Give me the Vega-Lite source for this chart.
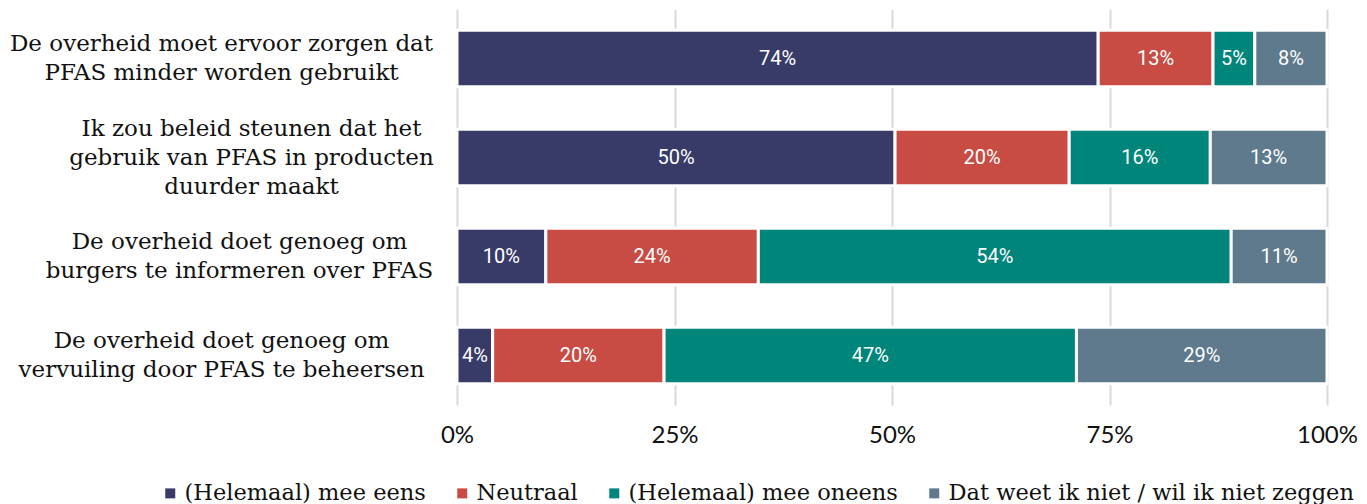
{
  "$schema": "https://vega.github.io/schema/vega-lite/v6.json",
  "width": 870,
  "height": 396,
  "autosize": {"type": "none"},
  "padding": {"left": 457, "top": 9, "right": 40, "bottom": 99},
  "background": "white",
  "config": {"view": {"stroke": null}, "font": "DejaVu Serif"},
  "data": {
    "values": [
      {"q": "De overheid moet ervoor zorgen dat|PFAS minder worden gebruikt", "cat": "(Helemaal) mee eens", "rank": 1, "v": 0.737},
      {"q": "De overheid moet ervoor zorgen dat|PFAS minder worden gebruikt", "cat": "Neutraal", "rank": 2, "v": 0.132},
      {"q": "De overheid moet ervoor zorgen dat|PFAS minder worden gebruikt", "cat": "(Helemaal) mee oneens", "rank": 3, "v": 0.048},
      {"q": "De overheid moet ervoor zorgen dat|PFAS minder worden gebruikt", "cat": "Dat weet ik niet / wil ik niet zeggen", "rank": 4, "v": 0.083},
      {"q": "Ik zou beleid steunen dat het|gebruik van PFAS in producten|duurder maakt", "cat": "(Helemaal) mee eens", "rank": 1, "v": 0.503},
      {"q": "Ik zou beleid steunen dat het|gebruik van PFAS in producten|duurder maakt", "cat": "Neutraal", "rank": 2, "v": 0.2},
      {"q": "Ik zou beleid steunen dat het|gebruik van PFAS in producten|duurder maakt", "cat": "(Helemaal) mee oneens", "rank": 3, "v": 0.162},
      {"q": "Ik zou beleid steunen dat het|gebruik van PFAS in producten|duurder maakt", "cat": "Dat weet ik niet / wil ik niet zeggen", "rank": 4, "v": 0.134},
      {"q": "De overheid doet genoeg om|burgers te informeren over PFAS", "cat": "(Helemaal) mee eens", "rank": 1, "v": 0.102},
      {"q": "De overheid doet genoeg om|burgers te informeren over PFAS", "cat": "Neutraal", "rank": 2, "v": 0.244},
      {"q": "De overheid doet genoeg om|burgers te informeren over PFAS", "cat": "(Helemaal) mee oneens", "rank": 3, "v": 0.543},
      {"q": "De overheid doet genoeg om|burgers te informeren over PFAS", "cat": "Dat weet ik niet / wil ik niet zeggen", "rank": 4, "v": 0.11},
      {"q": "De overheid doet genoeg om|vervuiling door PFAS te beheersen", "cat": "(Helemaal) mee eens", "rank": 1, "v": 0.041},
      {"q": "De overheid doet genoeg om|vervuiling door PFAS te beheersen", "cat": "Neutraal", "rank": 2, "v": 0.197},
      {"q": "De overheid doet genoeg om|vervuiling door PFAS te beheersen", "cat": "(Helemaal) mee oneens", "rank": 3, "v": 0.474},
      {"q": "De overheid doet genoeg om|vervuiling door PFAS te beheersen", "cat": "Dat weet ik niet / wil ik niet zeggen", "rank": 4, "v": 0.288}
    ]
  },
  "encoding": {
    "y": {
      "field": "q",
      "type": "nominal",
      "sort": null,
      "title": null,
      "scale": {"paddingInner": 0.43, "paddingOuter": 0.215},
      "axis": {
        "domain": false,
        "ticks": false,
        "labelExpr": "split(datum.label, '|')",
        "labelFont": "DejaVu Serif",
        "labelFontSize": 23,
        "labelLineHeight": 29,
        "labelColor": "#111111",
        "labelAlign": "center",
        "labelBaseline": "middle",
        "labelLimit": 0,
        "labelPadding": {
          "condition": [
            {"test": "indexof(datum.value, 'Ik zou') == 0", "value": 206},
            {"test": "indexof(datum.value, 'burgers') >= 0", "value": 218}
          ],
          "value": 236
        },
        "labelOffset": {
          "condition": {"test": "indexof(datum.value, 'Ik zou') == 0", "value": -29},
          "value": -14.5
        }
      }
    }
  },
  "layer": [
    {
      "mark": {"type": "bar", "stroke": "white", "strokeWidth": 3},
      "encoding": {
        "x": {
          "field": "v",
          "type": "quantitative",
          "stack": "normalize",
          "title": null,
          "scale": {"domain": [0, 1]},
          "axis": {
            "values": [0, 0.25, 0.5, 0.75, 1],
            "format": ".0%",
            "grid": true,
            "gridColor": "#d9d9d9",
            "gridWidth": 2,
            "domain": false,
            "ticks": false,
            "labelFont": "Lato",
            "labelFontSize": 24,
            "labelColor": "#111111",
            "labelPadding": 18,
            "labelFlush": false
          }
        },
        "color": {
          "field": "cat",
          "type": "nominal",
          "scale": {
            "domain": ["(Helemaal) mee eens", "Neutraal", "(Helemaal) mee oneens", "Dat weet ik niet / wil ik niet zeggen"],
            "range": ["#383b68", "#c84c43", "#00857a", "#5e7a8c"]
          },
          "legend": {
            "title": null,
            "orient": "none",
            "legendX": -298,
            "legendY": 473,
            "direction": "horizontal",
            "symbolType": "square",
            "symbolSize": 100,
            "symbolStrokeWidth": 0,
            "labelFont": "DejaVu Serif",
            "labelFontSize": 22.5,
            "labelColor": "#111111",
            "labelOffset": 3,
            "labelLimit": 0,
            "columnPadding": 25
          }
        },
        "order": {"field": "rank"}
      }
    },
    {
      "mark": {"type": "text", "font": "Roboto", "fontSize": 20, "color": "white"},
      "encoding": {
        "x": {"field": "v", "type": "quantitative", "stack": "normalize", "bandPosition": 0.5},
        "detail": {"field": "cat"},
        "text": {"field": "v", "format": ".0%"},
        "order": {"field": "rank"}
      }
    }
  ]
}
